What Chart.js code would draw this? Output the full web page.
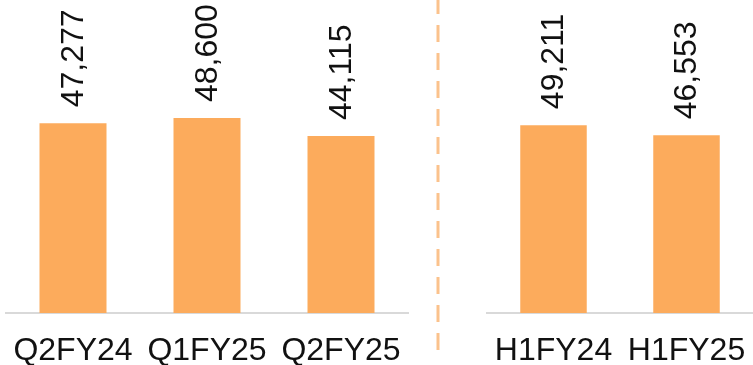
<!DOCTYPE html>
<html>
<head>
<meta charset="utf-8">
<script src="https://cdn.jsdelivr.net/npm/chart.js@4.4.1/dist/chart.umd.min.js"></script>
<style>
  html, body { margin: 0; padding: 0; background: #ffffff; }
  #wrap { position: relative; width: 753px; height: 365px; }
  #quarters { position: absolute; left: 0; top: 0; }
  #halves { position: absolute; left: 445px; top: 0; }
</style>
</head>
<body>
<div id="wrap">
  <canvas id="quarters" width="445" height="365"></canvas>
  <canvas id="halves" width="308" height="365"></canvas>
</div>
<script>
// Quarterly figures
const quarterLabels = ['Q2FY24', 'Q1FY25', 'Q2FY25'];
const quarterValues = [47277, 48600, 44115];

// Half-year figures
const halfLabels = ['H1FY24', 'H1FY25'];
const halfValues = [49211, 46553];

const BAR_COLOR = '#FCAB5C';
const FONT_FAMILY = '"Liberation Sans", Arial, Helvetica, sans-serif';

// Writes each bar's value vertically just above the bar
const valueLabels = {
  id: 'valueLabels',
  afterDatasetsDraw(chart) {
    const ctx = chart.ctx;
    const ds = chart.data.datasets[0];
    chart.getDatasetMeta(0).data.forEach((bar, i) => {
      const text = ds.data[i].toLocaleString('en-US');
      ctx.save();
      ctx.translate(bar.x, bar.y - 16);
      ctx.rotate(-Math.PI / 2);
      ctx.font = '32px ' + FONT_FAMILY;
      ctx.fillStyle = '#111111';
      ctx.textAlign = 'left';
      ctx.textBaseline = 'middle';
      ctx.fillText(text, 0, 1);
      ctx.restore();
    });
  }
};

// Dashed divider between the quarterly and half-year groups
const divider = {
  id: 'divider',
  afterDraw(chart) {
    const ctx = chart.ctx;
    ctx.save();
    ctx.strokeStyle = '#FBC28C';
    ctx.lineWidth = 3;
    ctx.setLineDash([17, 11]);
    ctx.lineDashOffset = 3;
    ctx.beginPath();
    ctx.moveTo(438, 0);
    ctx.lineTo(438, 350);
    ctx.stroke();
    ctx.restore();
  }
};

function makeChart(canvasId, labels, values, yMax, padding, extraPlugins) {
  return new Chart(document.getElementById(canvasId), {
    type: 'bar',
    data: {
      labels: labels,
      datasets: [{
        data: values,
        backgroundColor: BAR_COLOR,
        borderWidth: 0,
        barPercentage: 0.5,
        categoryPercentage: 1.0
      }]
    },
    options: {
      responsive: false,
      animation: false,
      layout: { padding: padding },
      plugins: {
        legend: { display: false },
        tooltip: { enabled: false }
      },
      scales: {
        x: {
          grid: { display: false, drawTicks: false },
          border: { display: true, color: '#D9D9D9', width: 2 },
          ticks: {
            color: '#111111',
            font: { family: FONT_FAMILY, size: 32 },
            padding: 19,
            maxRotation: 0,
            autoSkip: false
          },
          afterFit(scale) {
            scale.height = 52;
            scale.paddingLeft = 0;
            scale.paddingRight = 0;
          }
        },
        y: {
          display: false,
          min: 0,
          max: yMax
        }
      }
    },
    plugins: [valueLabels].concat(extraPlugins)
  });
}

makeChart('quarters', quarterLabels, quarterValues, 78000,
  { left: 6, right: 37, top: 0, bottom: 0 }, [divider]);
makeChart('halves', halfLabels, halfValues, 82000,
  { left: 42, right: 0, top: 0, bottom: 0 }, []);
</script>
</body>
</html>
